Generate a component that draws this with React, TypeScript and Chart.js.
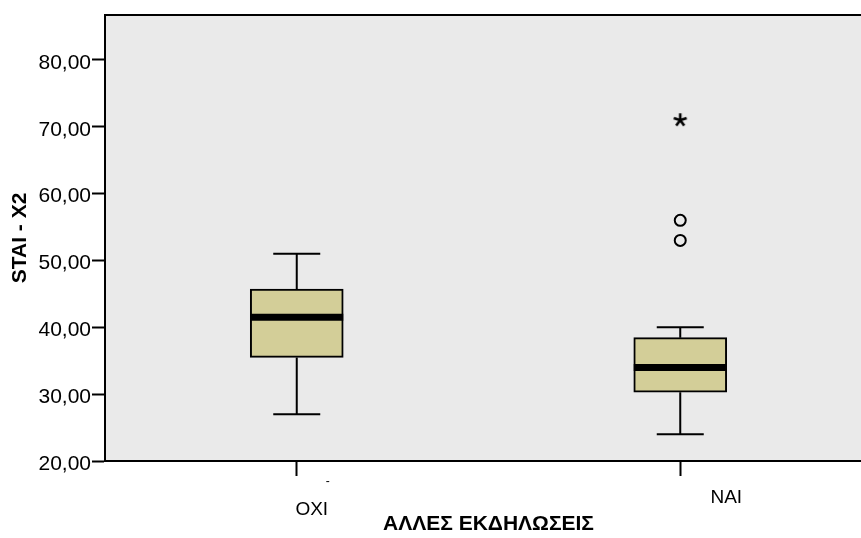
import { useEffect, useRef } from "react";
import { Chart, registerables } from "chart.js";

Chart.register(...registerables);

// Groups on the x axis
const categories = ["OXI", "NAI"];

// Five-number summaries per group (STAI - X2)
const whiskerLow = [27, 24];
const q1 = [35.5, 30.3];
const median = [41.5, 34];
const q3 = [45.7, 38.45];
const whiskerHigh = [51, 40];

// Outliers (circles) and extreme values (asterisks)
const outlierGroups = ["NAI", "NAI"];
const outlierValues = [56, 53];
const extremeGroups = ["NAI"];
const extremeValues = [71];

// Value axis
const yTicks = [20, 30, 40, 50, 60, 70, 80];
const yMin = 20;
const yMax = 86.72;

const BOX_WIDTH = 93;
const CAP_WIDTH = 47;
const FONT = "'Liberation Sans', Arial, sans-serif";

function makeAsterisk(): HTMLCanvasElement {
  const c = document.createElement("canvas");
  c.width = 16;
  c.height = 16;
  const g = c.getContext("2d")!;
  g.strokeStyle = "#000";
  g.lineWidth = 2.6;
  g.lineCap = "butt";
  const cx = 8;
  const cy = 8;
  const r = 6.8;
  for (let k = 0; k < 5; k++) {
    const a = -Math.PI / 2 + (k * 2 * Math.PI) / 5;
    g.beginPath();
    g.moveTo(cx, cy);
    g.lineTo(cx + r * Math.cos(a), cy + r * Math.sin(a));
    g.stroke();
  }
  return c;
}

const plotBackground = {
  id: "plotBackground",
  beforeDraw(chart: any) {
    const { ctx, chartArea } = chart;
    const { left, top, right, bottom } = chartArea;
    ctx.save();
    ctx.fillStyle = "#eaeaea";
    ctx.fillRect(left, top, right - left, bottom - top);
    ctx.restore();
  },
  afterDraw(chart: any) {
    const { ctx, chartArea } = chart;
    ctx.save();
    ctx.strokeStyle = "#000";
    ctx.lineWidth = 2;
    ctx.beginPath();
    ctx.moveTo(chartArea.left - 1, chartArea.top);
    ctx.lineTo(chartArea.right, chartArea.top);
    ctx.stroke();
    ctx.restore();
  },
};

const boxParts = {
  id: "boxParts",
  afterDatasetsDraw(chart: any) {
    const { ctx } = chart;
    const xs = chart.scales.x;
    const ys = chart.scales.y;
    ctx.save();
    ctx.strokeStyle = "#000";
    categories.forEach((_, i) => {
      const x = xs.getPixelForValue(i);
      const yHi = ys.getPixelForValue(whiskerHigh[i]);
      const yLo = ys.getPixelForValue(whiskerLow[i]);
      const yQ1 = ys.getPixelForValue(q1[i]);
      const yQ3 = ys.getPixelForValue(q3[i]);
      const yMed = ys.getPixelForValue(median[i]);
      ctx.lineWidth = 2;
      ctx.beginPath();
      ctx.moveTo(x, yQ3);
      ctx.lineTo(x, yHi);
      ctx.moveTo(x, yQ1);
      ctx.lineTo(x, yLo);
      ctx.moveTo(x - CAP_WIDTH / 2, yHi);
      ctx.lineTo(x + CAP_WIDTH / 2, yHi);
      ctx.moveTo(x - CAP_WIDTH / 2, yLo);
      ctx.lineTo(x + CAP_WIDTH / 2, yLo);
      ctx.stroke();
      ctx.lineWidth = 7;
      ctx.beginPath();
      ctx.moveTo(x - BOX_WIDTH / 2, yMed);
      ctx.lineTo(x + BOX_WIDTH / 2, yMed);
      ctx.stroke();
    });
    ctx.restore();
  },
};

// Category labels sit slightly right of their tick marks
const categoryLabels = {
  id: "categoryLabels",
  afterDraw(chart: any) {
    const { ctx } = chart;
    const xs = chart.scales.x;
    const shifts = [
      [15, 510],
      [46, 498],
    ];
    ctx.save();
    ctx.fillStyle = "#000";
    ctx.textAlign = "center";
    ctx.textBaseline = "middle";
    ctx.font = `19px ${FONT}`;
    categories.forEach((c, i) => {
      ctx.fillText(c, xs.getPixelForValue(i) + shifts[i][0], shifts[i][1]);
    });
    ctx.font = `12px ${FONT}`;
    ctx.fillText("-", xs.getPixelForValue(0) + 31, 482);
    ctx.restore();
  },
};

export default function App() {
  const ref = useRef<HTMLCanvasElement | null>(null);

  useEffect(() => {
    if (!ref.current) return;
    const asterisk = makeAsterisk();
    const chart = new Chart(ref.current, {
      type: "bar",
      data: {
        labels: categories,
        datasets: [
          {
            type: "bar",
            label: "box",
            data: categories.map((_, i) => [q1[i], q3[i]]) as any,
            backgroundColor: "#d3ce98",
            borderColor: "#000",
            borderWidth: 2,
            borderSkipped: false,
            barThickness: BOX_WIDTH,
          } as any,
          {
            type: "line",
            label: "outliers",
            data: outlierGroups.map((g, i) => ({ x: g, y: outlierValues[i] })) as any,
            showLine: false,
            pointStyle: "circle",
            pointRadius: 5.5,
            pointBorderWidth: 2,
            pointBorderColor: "#000",
            pointBackgroundColor: "rgba(0,0,0,0)",
          } as any,
          {
            type: "line",
            label: "extremes",
            data: extremeGroups.map((g, i) => ({ x: g, y: extremeValues[i] })) as any,
            showLine: false,
            pointStyle: asterisk,
            pointRadius: 7,
          } as any,
        ],
      },
      options: {
        animation: false,
        responsive: false,
        events: [],
        layout: { padding: { top: 15, right: 7, left: 0, bottom: 0 } },
        plugins: {
          legend: { display: false },
          tooltip: { enabled: false },
        },
        scales: {
          x: {
            type: "category",
            offset: true,
            afterFit: (s: any) => {
              s.height = 77;
            },
            grid: {
              offset: false,
              drawOnChartArea: false,
              drawTicks: true,
              tickLength: 15,
              tickColor: "#000",
              tickWidth: 2,
            },
            border: { display: true, color: "#000", width: 2 },
            ticks: { display: false },
            title: {
              display: true,
              text: "ΑΛΛΕΣ ΕΚΔΗΛΩΣΕΙΣ",
              color: "#000",
              font: { family: FONT, size: 21, weight: "bold" },
              padding: { top: 0, bottom: 1 },
            },
          },
          y: {
            type: "linear",
            min: yMin,
            max: yMax,
            afterFit: (s: any) => {
              s.width = 105;
            },
            afterBuildTicks: (s: any) => {
              s.ticks = yTicks.map((v) => ({ value: v }));
            },
            grid: {
              drawOnChartArea: false,
              drawTicks: true,
              tickLength: 13,
              tickColor: "#000",
              tickWidth: 2,
            },
            border: { display: true, color: "#000", width: 2 },
            ticks: {
              color: "#000",
              padding: 1,
              labelOffset: 3,
              font: { family: FONT, size: 21 },
              callback: (v: any) => Number(v).toFixed(2).replace(".", ","),
            },
            title: {
              display: true,
              text: "STAI - X2",
              color: "#000",
              font: { family: FONT, size: 21, weight: "bold" },
              padding: { top: 8, bottom: 0 },
            },
          },
        },
      },
      plugins: [plotBackground, boxParts, categoryLabels],
    });
    return () => chart.destroy();
  }, []);

  return (
    <div
      style={{
        position: "absolute",
        left: 0,
        top: 0,
        width: 861,
        height: 538,
        overflow: "hidden",
        background: "#fff",
      }}
    >
      <canvas ref={ref} width={880} height={538} style={{ display: "block" }} />
    </div>
  );
}
